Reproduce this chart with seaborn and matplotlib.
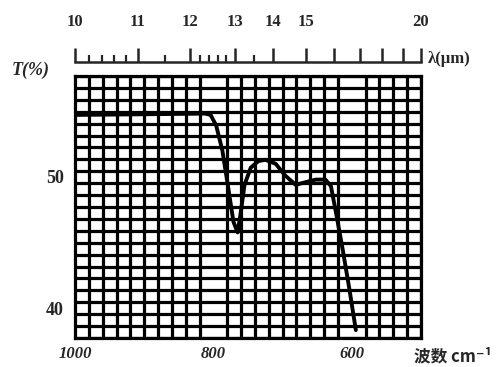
import numpy as np
import pandas as pd
import matplotlib.pyplot as plt
import seaborn as sns

# spectrum (wavenumber in cm-1, transmittance in %)
wavenumber = [1000, 900, 812, 804, 796, 787, 778, 771, 765, 761, 755, 746, 735,
              725, 710, 696, 681, 667, 652, 638, 630, 622, 613, 603, 594]
transmittance = [54.7, 54.75, 54.8, 54.7, 53.9, 52.0, 49.0, 46.6, 45.8, 47.1, 49.4,
                 50.7, 51.2, 51.3, 51.0, 50.1, 49.4, 49.6, 49.8, 49.8, 49.3, 47.1,
                 44.5, 41.4, 38.4]

wn_ticks = [1000, 800, 600]
t_ticks = [40, 50]
wl_major = [10, 11, 12, 13, 14, 15, 20]
wl_unlabeled = [16, 17, 18, 19]
wl_minor = [10.2, 10.4, 10.6, 10.8, 11.5, 12.2, 12.4, 12.6, 12.8, 13.5]

df = pd.DataFrame({'wn': wavenumber, 'T': transmittance})

sns.set_style("white")
serif = 'Liberation Serif'

fig = plt.figure(figsize=(5.04, 3.67), dpi=100)
ax = fig.add_axes([0.149, 0.079, 0.686, 0.714])

sns.lineplot(data=df, x='wn', y='T', sort=False, color='black', lw=2.8, ax=ax)

ax.set_xlim(1000, 500)
ax.set_ylim(37.8, 57.65)

# dense chart-paper grid
ax.set_xticks(np.arange(500, 1001, 20), minor=True)
ax.set_yticks(np.linspace(37.8, 57.65, 23), minor=True)
ax.grid(which='minor', color='black', lw=2.3)
ax.grid(which='major', visible=False)
ax.set_axisbelow(True)
for s in ax.spines.values():
    s.set_color('black')
    s.set_linewidth(2.3)

ax.set_xticks(wn_ticks)
ax.set_xticklabels([str(v) for v in wn_ticks], fontfamily=serif,
                   fontweight='bold', fontstyle='italic', fontsize=12)
ax.set_yticks(t_ticks)
ax.set_yticklabels([str(v) for v in t_ticks], fontfamily=serif,
                   fontweight='bold', fontsize=13)
ax.tick_params(which='both', length=0)
ax.tick_params(axis='x', pad=6)
ax.tick_params(axis='y', pad=8)
ax.set_xlabel('')
ax.set_ylabel('')

# wavelength scale on top
ax2 = fig.add_axes([0.149, 0.831, 0.686, 0.001])
ax2.set_xlim(1000, 500)
ax2.set_yticks([])
for side in ['left', 'right', 'top']:
    ax2.spines[side].set_visible(False)
ax2.spines['bottom'].set_linewidth(1.8)
ax2.set_xticks([10000 / w for w in wl_major + wl_unlabeled])
ax2.set_xticklabels([str(w) for w in wl_major] + [''] * len(wl_unlabeled),
                    fontfamily=serif, fontweight='bold', fontsize=12)
ax2.set_xticks([10000 / w for w in wl_minor], minor=True)
ax2.tick_params(axis='x', which='major', direction='in', length=10, width=1.8,
                bottom=True, top=False, labelbottom=False, labeltop=True, pad=23)
ax2.tick_params(axis='x', which='minor', direction='in', length=5, width=1.6,
                bottom=True, top=False)
ax2.patch.set_alpha(0)

fig.text(428 / 504, 1 - 59 / 367, 'λ(μm)', fontfamily=serif, fontweight='bold',
         fontsize=12, va='center', ha='left')
fig.text(12 / 504, 1 - 70 / 367, 'T(%)', fontfamily=serif, fontstyle='italic',
         fontweight='bold', fontsize=13, va='center', ha='left')
fig.text(414 / 504, 1 - 356 / 367, '波数 cm⁻¹', family=['Noto Sans CJK SC', 'DejaVu Sans'],
         fontweight='bold', fontsize=12, va='center', ha='left')

plt.savefig('out.png', dpi=100)
